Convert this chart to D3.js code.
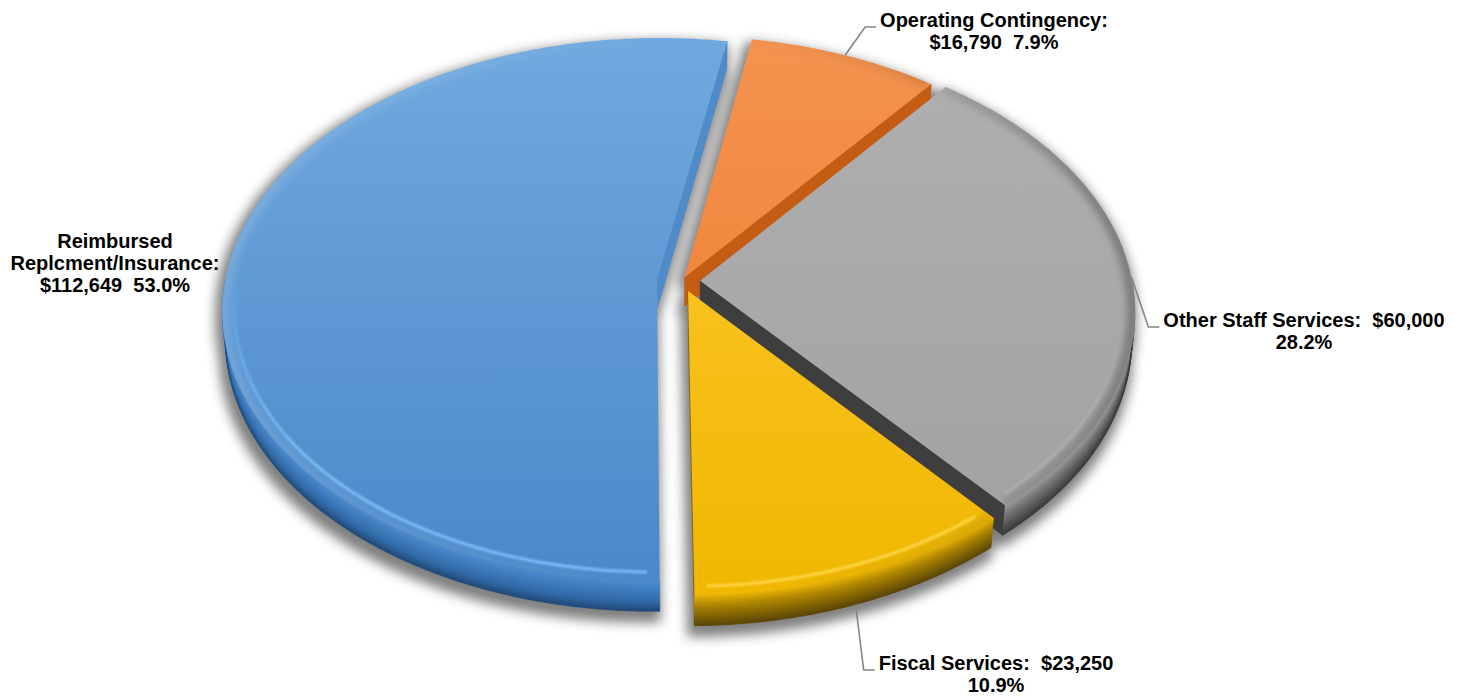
<!DOCTYPE html>
<html>
<head>
<meta charset="utf-8">
<script src="https://cdn.jsdelivr.net/npm/d3@7"></script>
<style>
  html, body { margin: 0; padding: 0; background: #ffffff; overflow: hidden; }
  text { font-family: "Liberation Sans", Arial, sans-serif; font-weight: bold; font-size: 20px; fill: #000; white-space: pre; }
</style>
</head>
<body>
<svg id="chart" width="1465" height="696"></svg>
<script>
// ---- data -------------------------------------------------------------
const categoryLines = [
  ["Operating Contingency"],
  ["Other Staff Services"],
  ["Fiscal Services"],
  ["Reimbursed", "Replcment/Insurance"]
];
const amounts = [16790, 60000, 23250, 112649];
// how far each slice is pulled out of the pie (fraction of radius)
const explode = [0.015, 0.042, 0.04, 0.058];

// ---- style ------------------------------------------------------------
const topColors = [
  ["#f4934f", "#ec7726"],   // orange
  ["#b0b0b0", "#a0a0a0"],   // gray
  ["#ffc936", "#f0b700"],   // gold
  ["#70a9df", "#4a87c8"]    // blue
];
const rimStops = [
  ["#e07a34", "#c8621c", "#a04a10", "#7a3608"],
  ["#9c9c9c", "#7a7a7a", "#555555", "#383838"],
  ["#e9b300", "#b48800", "#806200", "#584404"],
  ["#4a8ad0", "#3d7cc0", "#2f68a6", "#1e4877"]
];
const bevelColors = ["#f8a565", "#c4c4c4", "#ffd94f", "#7fc2ff"];
const bevelStrength = [0.9, 0.4, 0.9, 0.9];
const wallColors = ["#c45c14", "#3e3e3e", "#8a6a00", "#4f8bc8"];

// ---- view / projection ------------------------------------------------
const view = { cx: 682, cy: 281, K: 432, elev: Math.asin(0.622), D: 7.09, depth: 0.086 };
const sn = Math.sin(view.elev), cs = Math.cos(view.elev);
const rad = d => d * Math.PI / 180;

// x to the right, z toward the viewer, y up
function project(x, z, y) {
  const v = z * sn - y * cs;
  const w = z * cs + y * sn;
  const s = view.D / (view.D - w);
  return [view.cx + view.K * x * s, view.cy + view.K * v * s];
}
function depthOf(x, z, y) { return z * cs + y * sn; }
// angle a measured clockwise from the far side of the pie
function ringPoint(a, r, y, off) {
  return project(off[0] + r * Math.sin(a), off[1] - r * Math.cos(a), y);
}
function arcPts(a0, a1, r, y, off) {
  const n = Math.max(2, Math.ceil(Math.abs(a1 - a0) / rad(0.5)));
  return d3.range(n + 1).map(i => ringPoint(a0 + (a1 - a0) * i / n, r, y, off));
}
const line = d3.line();
const closed = pts => line(pts) + "Z";

const pie = d3.pie().sort(null).value(d => d).startAngle(rad(10)).endAngle(rad(370));
const total = d3.sum(amounts);
const fmtMoney = d3.format("$,");
const fmtPct = d3.format(".1%");

const slices = pie(amounts).map((p, i) => {
  const mid = (p.startAngle + p.endAngle) / 2;
  const e = explode[i];
  return {
    i, a0: p.startAngle, a1: p.endAngle, mid,
    off: [e * Math.sin(mid), -e * Math.cos(mid)],
    value: p.value
  };
});

const svg = d3.select("#chart");
const defs = svg.append("defs");
const H = view.depth;
const topFacePts = s => [project(s.off[0], s.off[1], 0)].concat(arcPts(s.a0, s.a1, 1, 0, s.off));

// top surface gradients and clip shapes
slices.forEach(s => {
  const g = defs.append("linearGradient").attr("id", "top" + s.i)
    .attr("gradientUnits", "userSpaceOnUse")
    .attr("x1", 0).attr("y1", 40).attr("x2", 0).attr("y2", 600);
  g.append("stop").attr("offset", 0).attr("stop-color", topColors[s.i][0]);
  g.append("stop").attr("offset", 1).attr("stop-color", topColors[s.i][1]);
  defs.append("clipPath").attr("id", "clip" + s.i)
    .append("path").attr("d", closed(topFacePts(s)));
});

const shadowF = defs.append("filter").attr("id", "shadow")
  .attr("filterUnits", "userSpaceOnUse")
  .attr("x", 0).attr("y", 0).attr("width", 1465).attr("height", 696);
shadowF.append("feMorphology").attr("operator", "dilate").attr("radius", 4).attr("result", "d");
shadowF.append("feGaussianBlur").attr("in", "d").attr("stdDeviation", 6);

const glow = defs.append("filter").attr("id", "glow")
  .attr("filterUnits", "userSpaceOnUse")
  .attr("x", 0).attr("y", 0).attr("width", 1465).attr("height", 696);
glow.append("feGaussianBlur").attr("stdDeviation", 1.2);

const edgeBlur = defs.append("filter").attr("id", "edgeBlur")
  .attr("filterUnits", "userSpaceOnUse")
  .attr("x", 0).attr("y", 0).attr("width", 1465).attr("height", 696);
edgeBlur.append("feGaussianBlur").attr("stdDeviation", 4);

// ---- drop shadow ------------------------------------------------------
const shadowG = svg.append("g").attr("filter", "url(#shadow)").attr("opacity", 0.62);
const shadowInner = shadowG.append("g").attr("transform", "translate(-3,7)");
slices.forEach(s => {
  const c1 = project(s.off[0], s.off[1], -H);
  shadowInner.append("path").attr("d", closed(topFacePts(s)));
  shadowInner.append("path").attr("d", closed([c1].concat(arcPts(s.a0, s.a1, 1, -H, s.off))));
  shadowInner.append("path").attr("d", closed(arcPts(s.a0, s.a1, 1, 0, s.off)
    .concat(arcPts(s.a1, s.a0, 1, -H, s.off))));
});
shadowInner.selectAll("path").attr("fill", "#303030");

// ---- side walls -------------------------------------------------------
const walls = [];
const camera = [0, view.D * sn, view.D * cs];   // x, y, z

slices.forEach(s => {
  // outer rim on the near half of the pie
  const ranges = [[rad(90), rad(270)], [rad(450), rad(630)]];
  ranges.forEach(([lo, hi]) => {
    const b0 = Math.max(s.a0, lo), b1 = Math.min(s.a1, hi);
    if (b1 <= b0) return;
    const am = (b0 + b1) / 2;
    walls.push({
      kind: "rim", s, b0, b1,
      depth: depthOf(s.off[0] + Math.sin(am), s.off[1] - Math.cos(am), -H / 2)
    });
  });
  // the two cut faces
  [["start", s.a0], ["end", s.a1]].forEach(([side, a]) => {
    const n = side === "end" ? [Math.cos(a), Math.sin(a)] : [-Math.cos(a), -Math.sin(a)];
    const px = s.off[0] + 0.5 * Math.sin(a), pz = s.off[1] - 0.5 * Math.cos(a);
    const dot = n[0] * (camera[0] - px) + n[1] * (camera[2] - pz);
    if (dot <= 0) return;
    walls.push({ kind: "cut", s, a, depth: depthOf(px, pz, -H / 2) });
  });
});
walls.sort((a, b) => a.depth - b.depth);

const wallG = svg.append("g");
const bands = 16;
walls.forEach(w => {
  const s = w.s;
  if (w.kind === "rim") {
    const col = d3.scaleLinear().domain([0, 0.3, 0.7, 1]).range(rimStops[s.i]);
    for (let j = 0; j < bands; j++) {
      const yt = -H * j / bands, yb = -H * (j + 1) / bands;
      const pts = arcPts(w.b0, w.b1, 1, yt, s.off).concat(arcPts(w.b1, w.b0, 1, yb, s.off));
      const c = col((j + 0.5) / bands);
      wallG.append("path").attr("d", closed(pts)).attr("fill", c)
        .attr("stroke", c).attr("stroke-width", 0.6);
    }
  } else {
    const pts = [
      project(s.off[0], s.off[1], 0),
      ringPoint(w.a, 1, 0, s.off),
      ringPoint(w.a, 1, -H, s.off),
      project(s.off[0], s.off[1], -H)
    ];
    wallG.append("path").attr("d", closed(pts)).attr("fill", wallColors[s.i])
      .attr("stroke", wallColors[s.i]).attr("stroke-width", 0.6);
  }
});

// ---- top faces --------------------------------------------------------
const topG = svg.append("g");
slices.forEach(s => {
  topG.append("path").attr("d", closed(topFacePts(s))).attr("fill", `url(#top${s.i})`);
});

// soft edge shading: lit on the left, shaded on the right
slices.forEach(s => {
  const g = svg.append("g").attr("clip-path", `url(#clip${s.i})`)
    .append("g").attr("filter", "url(#edgeBlur)");
  const step = rad(2);
  for (let a = s.a0; a < s.a1; a += step) {
    const b = Math.min(a + step, s.a1);
    const k = Math.sin((a + b) / 2);
    const col = k < 0 ? "#ffffff" : "#000000";
    const op = k < 0 ? -k * 0.18 : k * k * 0.35;
    if (op < 0.01) continue;
    g.append("path").attr("d", line(arcPts(a, b, 0.995, 0, s.off)))
      .attr("fill", "none").attr("stroke", col).attr("stroke-width", 9)
      .attr("stroke-opacity", op);
  }
});

// rounded-edge highlight along the near rim of each top face
const bevelG = svg.append("g").attr("filter", "url(#glow)");
slices.forEach(s => {
  const step = rad(2);
  for (let a = s.a0 + rad(1.5); a < s.a1 - rad(1.5); a += step) {
    const b = Math.min(a + step, s.a1 - rad(1.5));
    const k = -Math.cos((a + b) / 2);
    if (k <= 0.05) continue;
    bevelG.append("path").attr("d", line(arcPts(a, b, 0.972, 0, s.off)))
      .attr("fill", "none").attr("stroke", bevelColors[s.i])
      .attr("stroke-width", 3).attr("stroke-linecap", "butt")
      .attr("stroke-opacity", Math.min(1, k * 1.6) * bevelStrength[s.i]);
  }
});

// ---- labels -----------------------------------------------------------
const lineH = 22;
const labelLines = slices.map(s => {
  const names = categoryLines[s.i];
  const money = fmtMoney(s.value), pct = fmtPct(s.value / total);
  if (s.i === 0) return [names[0] + ":", money + "  " + pct];
  if (s.i === 3) return [names[0], names[1] + ":", money + "  " + pct];
  return [names[0] + ":  " + money, pct];
});
// label centre x, first baseline, and where the leader meets the slice
const labelLayout = [
  { x: 994, y: 27, leader: true, anchorR: 1.0, anchorY: 0 },
  { x: 1304, y: 327, leader: true, anchorR: 1.0, anchorY: 0 },
  { x: 996, y: 670, leader: true, anchorR: 1.0, anchorY: -1.0 },
  { x: 115, y: 248, leader: false }
];

const labelG = svg.append("g");
slices.forEach(s => {
  const L = labelLayout[s.i];
  const t = labelG.append("text").attr("text-anchor", "middle");
  labelLines[s.i].forEach((txt, k) => {
    t.append("tspan").attr("x", L.x).attr("y", L.y + k * lineH).text(txt);
  });
  if (L.leader) {
    const first = t.select("tspan").node();
    const left = L.x - first.getComputedTextLength() / 2;
    const a = ringPoint(s.mid, L.anchorR, L.anchorY * H, s.off);
    const pts = [a, [left - 15, L.y], [left - 4, L.y]];
    labelG.insert("path", "text").attr("d", line(pts)).attr("fill", "none")
      .attr("stroke", "#858585").attr("stroke-width", 1.6);
  }
});
</script>
</body>
</html>
